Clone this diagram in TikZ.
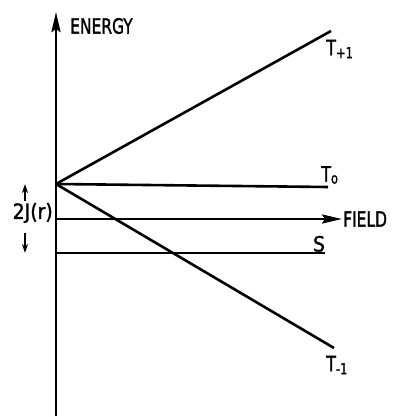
\documentclass[tikz,border=0pt]{standalone}
\usepackage{fontspec}
\setmainfont{DejaVu Sans Condensed}
\usetikzlibrary{arrows.meta}
\begin{document}
\begin{tikzpicture}[x=1pt,y=-1pt,
  axis/.style={line width=2.8pt},
  level/.style={line width=2.6pt},
  lab/.style={inner sep=0pt,font=\fontsize{21}{23}\selectfont\addfontfeatures{FakeBold=1.5}},
  tip/.style={-{Stealth[length=20pt,width=9pt,inset=3pt]}}]
\useasboundingbox (0,0) rectangle (396,417);
\coordinate (O) at (56,184);
\coordinate (yb) at (56,416);
\coordinate (yt) at (56,12);
\coordinate (xb) at (56,219);
\coordinate (xt) at (342,219);
\coordinate (Tp) at (331,31);
\coordinate (T0) at (328,187);
\coordinate (Tm) at (334,348);
\coordinate (Sa) at (56,253);
\coordinate (Sb) at (325,253);
\draw[axis,tip] (yb) -- (yt);
\draw[axis,tip] (xb) -- (xt);
\draw[level] (O) -- (Tp);
\draw[level] (O) -- (T0);
\draw[level] (O) -- (Tm);
\draw[level] (Sa) -- (Sb);
\node[lab,anchor=west] (energy) at (70,26) {\scalebox{0.82}[1]{ENERGY}};
\node[lab,anchor=west] (field) at (343,219) {\scalebox{0.82}[1]{FIELD}};
\node[lab,anchor=west] (tp) at (326,49) {\scalebox{0.85}[1]{T\raisebox{-3pt}{\fontsize{15}{16}\selectfont+1}}};
\node[lab,anchor=west] (t0) at (321,175) {\scalebox{0.85}[1]{T\raisebox{-2pt}{\fontsize{15}{16}\selectfont o}}};
\node[lab,anchor=west] (tm) at (326,365) {\scalebox{0.85}[1]{T\raisebox{-3pt}{\fontsize{15}{16}\selectfont-1}}};
\node[lab,anchor=south] (s) at (319,252) {S};
\node[lab,anchor=east] (j) at (53,213) {2J(r)};
\coordinate (ua) at (25,201);
\coordinate (ub) at (25,184);
\coordinate (da) at (25,233);
\coordinate (db) at (25,253);
\draw[line width=1.8pt,-{Stealth[length=9pt,width=6pt]}] (ua) -- (ub);
\draw[line width=1.8pt,-{Stealth[length=9pt,width=6pt]}] (da) -- (db);
\end{tikzpicture}
\end{document}
